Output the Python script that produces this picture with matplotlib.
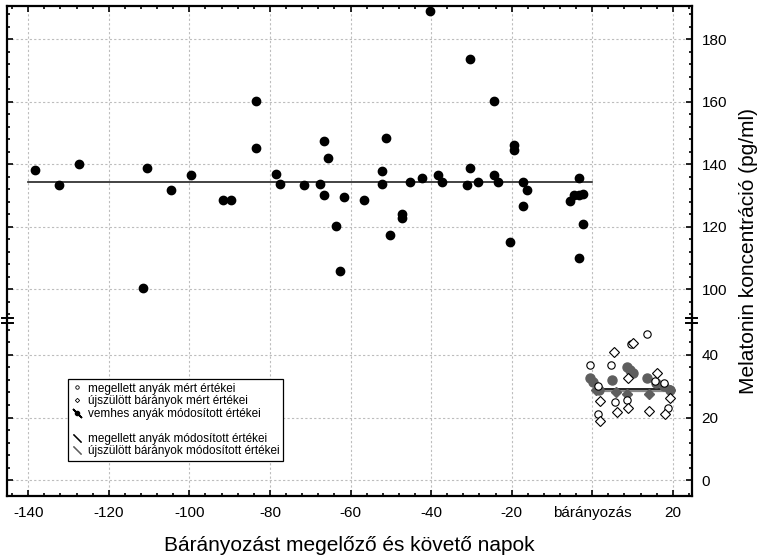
import matplotlib
matplotlib.use("Agg")
import matplotlib.pyplot as plt
from matplotlib.lines import Line2D
import matplotlib.transforms as mtransforms
import numpy as np

plt.rcParams['font.family'] = ['Liberation Sans', 'DejaVu Sans']

# vemhes anyák (pregnant ewes), days before lambing
vemhes_x = [-138.4, -132.4, -127.4, -110.5, -111.6, -104.5, -99.5, -91.6, -89.6,
            -83.5, -83.5, -78.6, -77.6, -71.6, -67.6, -66.7, -65.7, -66.7, -63.7,
            -62.6, -61.6, -56.6, -52.2, -52.2, -51.2, -50.2, -47.1, -47.1, -45.2,
            -42.2, -40.2, -38.2, -37.2, -31.2, -30.3, -30.3, -28.3, -24.3, -24.3,
            -23.3, -20.3, -19.3, -19.3, -17.3, -17.3, -16.3, -5.4, -4.4, -3.4,
            -2.4, -3.4, -2.4, -3.4]
vemhes_y = [138.3, 133.2, 140.2, 138.9, 100.4, 131.9, 136.4, 128.7, 128.7,
            160.2, 145.3, 137.0, 133.8, 133.2, 133.8, 147.3, 142.1, 130.0, 120.3,
            105.7, 129.4, 128.7, 137.7, 133.8, 148.5, 117.4, 124.2, 122.9, 134.4,
            135.7, 189.1, 136.4, 134.4, 133.2, 173.5, 138.9, 134.4, 160.2, 136.4,
            134.4, 115.1, 146.0, 144.7, 134.4, 126.8, 131.9, 128.1, 130.0, 130.0,
            130.6, 135.7, 121.0, 110.0]
vemhes_mean = 134.3

# megellett anyák mért értékei (open circles)
anya_x = [-0.5, 4.7, 13.5, 9.6, 1.4, 1.4, 5.7, 8.7, 15.6, 17.7, 18.8]
anya_y = [36.7, 36.7, 46.7, 43.5, 30.1, 21.1, 25.1, 25.6, 31.7, 30.9, 22.9]

# újszülött bárányok mért értékei (open diamonds)
barany_x = [5.3, 10.2, 9.0, 16.0, 1.9, 1.9, 6.2, 9.0, 14.1, 18.1, 19.2]
barany_y = [41.1, 43.7, 32.5, 34.1, 25.3, 18.9, 21.9, 23.1, 22.2, 21.1, 26.3]

# módosított értékek
anya_mod_x = [-0.5, 0.3, 1.7, 5.0, 8.6, 9.4, 10.2, 13.5, 15.8, 17.7, 19.2]
anya_mod_y = [32.5, 31.5, 28.8, 32.0, 36.3, 35.2, 34.1, 32.5, 30.9, 30.1, 28.8]
barany_mod_x = [1.0, 5.8, 8.7, 14.1, 19.3]
barany_mod_y = [28.8, 28.3, 27.5, 27.5, 28.8]
anya_mean = 29.0
barany_mean = 28.6

OFFSET = 39.0   # gap removed between the lower and upper y segments
BREAK = 50.9


def tr(v):
    v = np.asarray(v, dtype=float)
    return np.where(v > 70, v - OFFSET, v)


fig = plt.figure(figsize=(7.62, 5.6), dpi=100)
ax = fig.add_axes([7.3 / 762, 64 / 560, 684.4 / 762, 490 / 560])

ax.set_xlim(-145.2, 24.7)
ax.set_ylim(-5.1, 151.6)

grey = '#5e5e5e'
ax.plot([-140, 0], tr([vemhes_mean, vemhes_mean]), color='#222222', lw=1.2, zorder=3)
ax.plot([0.7, 20.3], [barany_mean, barany_mean], color='#8a8a8a', lw=1.6, zorder=3)
ax.plot([0.7, 20.3], [anya_mean, anya_mean], color='black', lw=1.2, zorder=3)

ax.plot(vemhes_x, tr(vemhes_y), 'o', color='black', ms=6, zorder=4)
ax.plot(anya_mod_x, anya_mod_y, 'o', color=grey, ms=6.5, mec=grey, zorder=4)
ax.plot(barany_mod_x, barany_mod_y, 'D', color=grey, ms=5, mec=grey, zorder=4)
ax.plot(anya_x, anya_y, 'o', mfc='white', mec='black', mew=0.8, ms=5.3, zorder=5)
ax.plot(barany_x, barany_y, 'D', mfc='white', mec='black', mew=0.8, ms=4.7, zorder=5)

# y ticks on both segments
lower_major = [0, 20, 40]
upper_major = [100, 120, 140, 160, 180]
lower_minor = [v for v in range(4, 50, 4) if v not in lower_major]
upper_minor = [v for v in range(92, 190, 4) if v not in upper_major]
ax.set_yticks(tr(lower_major + upper_major))
ax.set_yticklabels([str(v) for v in lower_major + upper_major])
ax.set_yticks(tr(lower_minor + upper_minor), minor=True)

xt = [-140, -120, -100, -80, -60, -40, -20, 0, 20]
ax.set_xticks(xt)
ax.set_xticklabels(['bárányozás' if v == 0 else str(v) for v in xt])
ax.set_xticks([v for v in range(-144, 25, 4) if v not in xt], minor=True)

ax.tick_params(which='both', direction='in', top=True, bottom=True, left=True, right=True,
               labelleft=False, labelright=True, labelsize=11, width=1.2)
ax.tick_params(which='major', length=4, pad=7)
ax.tick_params(which='minor', length=2.5)
for s in ax.spines.values():
    s.set_linewidth(1.6)

ax.grid(True, which='major', color='#bdbdbd', ls=(0, (2, 2)), lw=0.8)
ax.set_axisbelow(True)

# axis break marks
bt = mtransforms.blended_transform_factory(ax.transAxes, ax.transData)
for xa in (0.0, 1.0):
    for dy in (-0.8, 0.8):
        ax.plot([xa - 0.008, xa + 0.008], [BREAK + dy, BREAK + dy], color='black',
                lw=1.4, transform=bt, clip_on=False, zorder=6)

ax.set_xlabel('Bárányozást megelőző és követő napok', fontsize=15, labelpad=12)
ax.yaxis.set_label_position('right')
ax.set_ylabel('Melatonin koncentráció (pg/ml)', fontsize=15, labelpad=9)

handles = [
    Line2D([], [], ls='none', marker='o', mfc='white', mec='black', ms=2.5, mew=0.6),
    Line2D([], [], ls='none', marker='D', mfc='white', mec='black', ms=2.2, mew=0.6),
    (Line2D([], [], ls='none', marker=(2, 2, 45), color='black', ms=9, mew=1.2),
     Line2D([], [], ls='none', marker='o', color='black', ms=3)),
    Line2D([], [], ls='none'),
    Line2D([], [], ls='none', marker=(2, 2, 45), color='black', ms=8, mew=0.8),
    Line2D([], [], ls='none', marker=(2, 2, 45), color=grey, ms=8, mew=0.8),
]
labels = ['megellett anyák mért értékei', 'újszülött bárányok mért értékei',
          'vemhes anyák módosított értékei', ' ',
          'megellett anyák módosított értékei', 'újszülött bárányok módosított értékei']
leg = ax.legend(handles, labels, loc='lower left', bbox_to_anchor=(0.0887, 0.0714),
                fontsize=8.5, frameon=True, fancybox=False, framealpha=1,
                edgecolor='black', handlelength=1.0, handletextpad=0.4,
                labelspacing=0.05, borderpad=0.3, borderaxespad=0)
leg.get_frame().set_linewidth(0.9)

fig.savefig('out.png', dpi=100)
